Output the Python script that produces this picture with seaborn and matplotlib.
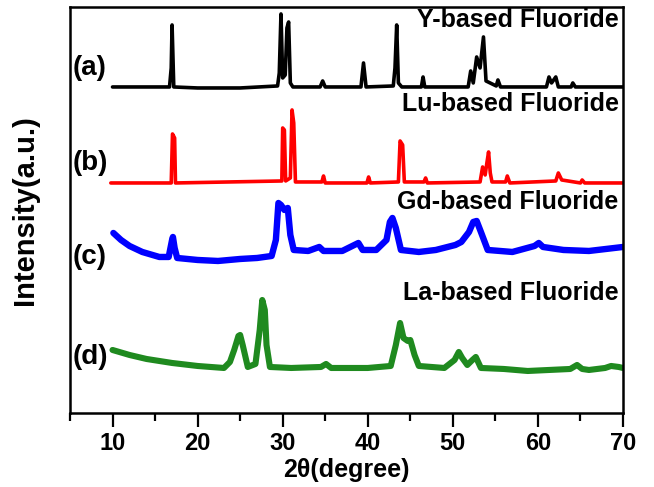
import matplotlib
matplotlib.use("Agg")
import matplotlib.pyplot as plt
from matplotlib.ticker import MultipleLocator
import seaborn as sns
import pandas as pd

# ---- data (intensity in arbitrary units) ----
y_x = [10.0, 12.0, 16.7, 16.9, 17.0, 17.2, 20.0, 25.0, 29.4, 29.6, 29.8, 30.0, 30.3, 30.5, 30.7,
       30.9, 31.2, 34.4, 34.7, 35.0, 39.2, 39.5, 39.8, 43.0, 43.2, 43.4, 43.6, 44.0, 46.3, 46.5,
       46.7, 51.8, 52.1, 52.4, 52.8, 53.2, 53.6, 53.9, 55.1, 55.3, 55.6, 61.0, 61.3, 61.6, 62.1,
       62.4, 63.9, 64.1, 64.4, 70.0]
y_int = [326, 326, 326, 345, 388, 326, 325, 325, 327, 340, 399, 335, 338, 385, 391,
         330, 326, 326, 332, 326, 326, 350, 326, 327, 345, 388, 330, 326, 326, 336,
         326, 326, 342, 330, 356, 345, 376, 332, 327, 333, 326, 326, 336, 330, 336,
         326, 326, 330, 326, 326]

lu_x = [9.8, 16.9, 17.05, 17.3, 17.4, 29.9, 30.0, 30.2, 30.35, 30.9, 31.1, 31.3, 31.5, 34.6,
        34.8, 35.0, 39.9, 40.1, 40.3, 43.6, 43.8, 44.1, 44.3, 46.6, 46.8, 47.0, 53.2, 53.5, 53.8,
        54.0, 54.2, 54.4, 54.6, 56.2, 56.4, 56.7, 62.1, 62.4, 62.8, 65.0, 65.2, 65.5, 70.0]
lu_int = [230, 230, 279, 275, 230, 232, 285, 283, 232, 235, 303, 290, 231, 231,
          237, 230, 230, 236, 230, 231, 272, 268, 231, 231, 235, 230, 231, 246, 238,
          250, 261, 240, 231, 231, 237, 230, 232, 240, 233, 230, 233, 230, 230]

gd_x = [10.1, 11.0, 12.0, 13.5, 15.5, 16.6, 17.0, 17.1, 17.3, 17.6, 20.0, 22.4, 25.0, 27.0,
        28.7, 29.2, 29.5, 29.8, 30.2, 30.6, 30.9, 31.3, 33.0, 34.3, 34.8, 37.0, 38.9, 39.4,
        41.0, 42.2, 42.6, 42.9, 43.3, 43.9, 46.0, 48.0, 50.3, 51.0, 51.9, 52.4, 52.8, 53.3,
        54.1, 57.0, 59.6, 60.1, 60.6, 63.0, 66.0, 68.0, 70.0]
gd_int = [180, 173, 167, 161, 156, 156, 173, 176, 165, 155, 153, 152, 154, 155,
          157, 173, 210, 208, 203, 205, 178, 163, 162, 166, 162, 162, 170, 163,
          163, 173, 191, 195, 185, 163, 161, 163, 168, 171, 181, 191, 192, 181,
          163, 161, 167, 170, 166, 163, 162, 164, 166]

la_x = [10.0, 12.0, 14.0, 17.0, 20.0, 23.1, 23.8, 24.3, 24.8, 25.0, 25.3, 25.9, 26.8, 27.3,
        27.6, 27.9, 28.1, 28.5, 31.0, 34.5, 35.1, 35.7, 40.0, 42.7, 43.3, 43.8, 44.2, 44.7,
        45.0, 45.5, 46.0, 49.0, 50.2, 50.7, 51.1, 51.7, 52.3, 52.7, 53.3, 56.0, 58.8, 63.8,
        64.6, 65.2, 66.0, 67.9, 68.6, 69.5, 70.0]
la_int = [63, 58, 54, 50, 47, 45, 51, 63, 77, 78, 68, 46, 49, 83,
          113, 103, 68, 46, 45, 46, 49, 45, 45, 47, 68, 90, 75, 72,
          73, 58, 47, 45, 53, 61, 55, 48, 53, 56, 45, 44, 42, 44,
          48, 44, 43, 45, 47, 46, 45]

series_names = ["Y-based Fluoride", "Lu-based Fluoride", "Gd-based Fluoride", "La-based Fluoride"]
panel_tags = ["(a)", "(b)", "(c)", "(d)"]
series_colors = ["#000000", "#ff0000", "#0000ff", "#1f8a1f"]
x_ticks = [10, 20, 30, 40, 50, 60, 70]

# ---- figure ----
sns.set_style("ticks")
plt.rcParams['font.family'] = ['Liberation Sans', 'DejaVu Sans']
plt.rcParams['text.color'] = 'black'
plt.rcParams['axes.labelcolor'] = 'black'
plt.rcParams['xtick.color'] = 'black'
plt.rcParams['ytick.color'] = 'black'

fig = plt.figure(figsize=(6.54, 4.87), dpi=100)
ax = fig.add_axes([0.1070, 0.1520, 0.8456, 0.8337])

xs = [y_x, lu_x, gd_x, la_x]
ys = [y_int, lu_int, gd_int, la_int]
widths = [2.6, 2.6, 4.6, 4.4]
for name, xv, yv, c, lw in zip(series_names, xs, ys, series_colors, widths):
    df = pd.DataFrame({"x": xv, "y": yv})
    sns.lineplot(data=df, x="x", y="y", sort=False, estimator=None, color=c,
                 linewidth=lw, ax=ax, legend=False)

ax.set_xlim(5, 70)
ax.set_ylim(0, 406)
ax.set_xticks(x_ticks)
ax.set_xticklabels([str(t) for t in x_ticks])
ax.xaxis.set_minor_locator(MultipleLocator(5))
ax.set_yticks([])
ax.tick_params(axis='x', which='major', direction='out', length=10, width=1.6,
               labelsize=17, pad=4)
ax.tick_params(axis='x', which='minor', direction='out', length=6, width=1.6)
for lab in ax.get_xticklabels():
    lab.set_fontweight('bold')
for s in ax.spines.values():
    s.set_visible(True)
    s.set_linewidth(1.8)
    s.set_color('black')

ax.set_xlabel("2θ(degree)", fontsize=18, fontweight='bold', labelpad=2)
ax.set_ylabel("Intensity(a.u.)", fontsize=21, fontweight='bold', labelpad=22)

tag_y = [345, 250, 156, 56]
name_y = [393, 309, 211, 120]
for tag, ty in zip(panel_tags, tag_y):
    ax.text(5.3, ty, tag, fontsize=20, fontweight='bold', ha='left', va='center')
for name, ny in zip(series_names, name_y):
    ax.text(69.5, ny, name, fontsize=18, fontweight='bold', ha='right', va='center')

fig.savefig("out.png", dpi=100)
